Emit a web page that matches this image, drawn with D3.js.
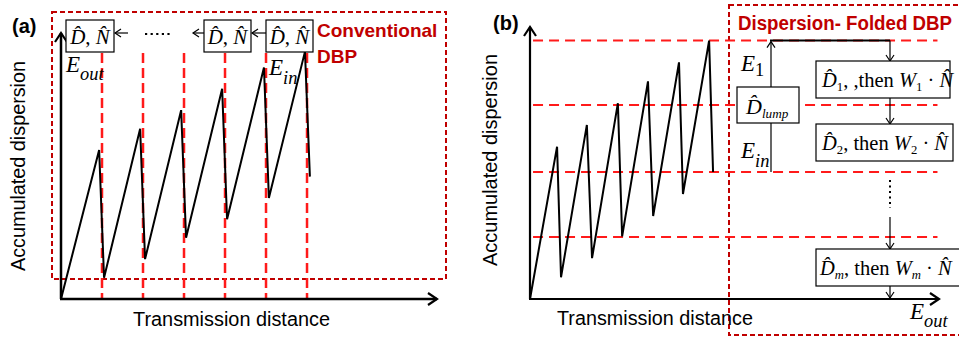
<!DOCTYPE html>
<html>
<head>
<meta charset="utf-8">
<script src="https://cdn.jsdelivr.net/npm/d3@7"></script>
<style>
    body { margin: 0; background: #fff; }
</style>
</head>
<body>
<svg id="chart"></svg>
<script>
// Panel (a): sawtooth of accumulated dispersion, x in spans, y in % of axis
const A_PEAK_X = [0.93, 1.93, 2.93, 3.93, 4.95, 5.95];
const A_PEAK_Y = [56, 64, 71, 79, 87, 93];
const A_DIP_X = [1.05, 2.05, 3.05, 4.05, 5.07, 6.07];
const A_DIP_Y = [8, 15, 23, 30, 38, 46];
const A_SPLITS = [1, 2, 3, 4, 5, 6];

// Panel (b)
const B_PEAK_X = [0.89, 1.87, 2.89, 3.88, 4.9, 5.89];
const B_PEAK_Y = [56, 64, 72, 80, 87, 95];
const B_DIP_X = [1.02, 2.04, 3.03, 4.05, 5.03, 6.02];
const B_DIP_Y = [8, 15, 23, 30.5, 38.6, 46.7];
const B_LEVELS = [95, 71.3, 46.7, 22.8];

const AXIS_LABEL_Y = 'Accumulated dispersion';
const AXIS_LABEL_X = 'Transmission distance';

const W = 959, H = 337;
const SERIF = '"Liberation Serif", "Times New Roman", serif';
const SANS = '"Liberation Sans", Arial, sans-serif';
const DARK_RED = '#c00000';
const RED = '#ff1a1a';
const HAT = '\u0302';

const svg = d3.select('#chart').attr('width', W).attr('height', H);
svg.append('rect').attr('width', W).attr('height', H).attr('fill', '#fff');

const defs = svg.append('defs');
function addMarker(id, len, half, width)
{
    defs.append('marker')
        .attr('id', id)
        .attr('viewBox', `${ -len - 2 } ${ -half - 2 } ${ len + 4 } ${ 2 * half + 4 }`)
        .attr('refX', 0).attr('refY', 0)
        .attr('markerUnits', 'userSpaceOnUse')
        .attr('markerWidth', len + 4).attr('markerHeight', 2 * half + 4)
        .attr('orient', 'auto')
        .append('path')
        .attr('d', `M${ -len },${ -half } L0,0 L${ -len },${ half }`)
        .attr('fill', 'none').attr('stroke', '#000')
        .attr('stroke-width', width);
}
addMarker('bigArrow', 9, 6, 2.2);
addMarker('smallArrow', 6, 4, 1.2);

function sawtooth(peakX, peakY, dipX, dipY)
{
    const pts = [[0, 0]];
    peakX.forEach((px, i) => {
        pts.push([px, peakY[i]]);
        pts.push([dipX[i], dipY[i]]);
    });
    return pts;
}

// rich text with italic parts and subscripts
function mathText(g, x, y, parts, size, anchor)
{
    const t = g.append('text')
        .attr('x', x).attr('y', y)
        .attr('font-family', SERIF)
        .attr('font-size', size)
        .attr('text-anchor', anchor || 'start');
    let shift = 0;
    parts.forEach(p => {
        const s = t.append('tspan').text(p.t)
            .attr('font-style', p.i ? 'italic' : 'normal');
        const want = p.sub ? p.sub : 0;
        if (want !== shift) s.attr('dy', want - shift);
        shift = want;
        if (p.sub) s.attr('font-size', size * (p.r || 0.62));
    });
    return t;
}

function box(g, x0, y0, x1, y1)
{
    g.append('rect')
        .attr('x', x0).attr('y', y0)
        .attr('width', x1 - x0).attr('height', y1 - y0)
        .attr('fill', '#fff').attr('stroke', '#000').attr('stroke-width', 1.2);
}

function arrow(g, x0, y0, x1, y1, width)
{
    g.append('line')
        .attr('x1', x0).attr('y1', y0).attr('x2', x1).attr('y2', y1)
        .attr('stroke', '#000').attr('stroke-width', width || 1.2)
        .attr('marker-end', 'url(#smallArrow)');
}

const line = (xs, ys) => d3.line().x(d => xs(d[0])).y(d => ys(d[1]));

// ---------------- panel (a) ----------------
const xA = d3.scaleLinear().domain([0, 9.17]).range([61, 437]);
const yA = d3.scaleLinear().domain([0, 100]).range([299, 33]);
const gA = svg.append('g');

gA.append('rect')
    .attr('x', 52).attr('y', 12).attr('width', 394).attr('height', 267)
    .attr('fill', 'none').attr('stroke', DARK_RED)
    .attr('stroke-width', 2).attr('stroke-dasharray', '5,3');

gA.selectAll('line.split')
    .data(A_SPLITS)
    .join('line')
    .attr('class', 'split')
    .attr('x1', d => xA(d)).attr('x2', d => xA(d))
    .attr('y1', yA(92.5)).attr('y2', yA(0))
    .attr('stroke', RED).attr('stroke-width', 2.5)
    .attr('stroke-dasharray', '10,5');

gA.append('path')
    .datum(sawtooth(A_PEAK_X, A_PEAK_Y, A_DIP_X, A_DIP_Y))
    .attr('fill', 'none').attr('stroke', '#000').attr('stroke-width', 2)
    .attr('d', line(xA, yA));

gA.append('line')
    .attr('x1', xA(0)).attr('y1', yA(0)).attr('x2', xA(0)).attr('y2', yA(100))
    .attr('stroke', '#000').attr('stroke-width', 2.5)
    .attr('marker-end', 'url(#bigArrow)');
gA.append('line')
    .attr('x1', xA(0) - 1).attr('y1', yA(0)).attr('x2', xA(9.17)).attr('y2', yA(0))
    .attr('stroke', '#000').attr('stroke-width', 2.5)
    .attr('marker-end', 'url(#bigArrow)');

const DN = [{ t: 'D' + HAT, i: true }, { t: ', ' }, { t: 'N' + HAT, i: true }];
[[66, 114], [204, 251], [266, 313]].forEach(([x0, x1]) => {
    box(gA, x0, 20, x1, 52);
    mathText(gA, (x0 + x1) / 2, 44, DN, 21, 'middle');
});
arrow(gA, 266, 33, 252, 33);
arrow(gA, 204, 33, 193, 33);
arrow(gA, 128, 33, 115, 33);
gA.append('line')
    .attr('x1', 145).attr('x2', 172).attr('y1', 34).attr('y2', 34)
    .attr('stroke', '#000').attr('stroke-width', 2.2)
    .attr('stroke-dasharray', '2.2,3.4');

mathText(gA, 66, 72, [{ t: 'E', i: true }, { t: 'out', i: true, sub: 8, r: 0.8 }], 23);
mathText(gA, 269, 75, [{ t: 'E', i: true }, { t: 'in', i: true, sub: 9, r: 0.8 }], 23);

gA.append('text').attr('x', 317).attr('y', 37)
    .attr('font-family', SANS).attr('font-weight', 'bold').attr('font-size', 19)
    .attr('fill', DARK_RED).text('Conventional');
gA.append('text').attr('x', 317).attr('y', 63)
    .attr('font-family', SANS).attr('font-weight', 'bold').attr('font-size', 19)
    .attr('fill', DARK_RED).text('DBP');

gA.append('text').attr('x', 12).attr('y', 33)
    .attr('font-family', SANS).attr('font-weight', 'bold').attr('font-size', 20)
    .text('(a)');
gA.append('text')
    .attr('transform', 'translate(25,166) rotate(-90)')
    .attr('text-anchor', 'middle')
    .attr('font-family', SANS).attr('font-size', 19.5)
    .attr('textLength', 210).attr('lengthAdjust', 'spacingAndGlyphs')
    .text(AXIS_LABEL_Y);
gA.append('text').attr('x', 133).attr('y', 326)
    .attr('font-family', SANS).attr('font-size', 19.5)
    .attr('textLength', 197).attr('lengthAdjust', 'spacingAndGlyphs')
    .text(AXIS_LABEL_X);

// ---------------- panel (b) ----------------
const xB = d3.scaleLinear().domain([0, 13.45]).range([530, 939]);
const yB = d3.scaleLinear().domain([0, 100]).range([299, 27]);
const gB = svg.append('g');

gB.append('rect')
    .attr('x', 729).attr('y', 5).attr('width', 240).attr('height', 330)
    .attr('fill', 'none').attr('stroke', DARK_RED)
    .attr('stroke-width', 2).attr('stroke-dasharray', '5,3');

gB.selectAll('line.level')
    .data(B_LEVELS)
    .join('line')
    .attr('class', 'level')
    .attr('x1', xB(0.1)).attr('x2', xB(13.4))
    .attr('y1', d => yB(d)).attr('y2', d => yB(d))
    .attr('stroke', RED).attr('stroke-width', 2)
    .attr('stroke-dasharray', '10,6');

gB.append('path')
    .datum(sawtooth(B_PEAK_X, B_PEAK_Y, B_DIP_X, B_DIP_Y))
    .attr('fill', 'none').attr('stroke', '#000').attr('stroke-width', 2)
    .attr('d', line(xB, yB));

gB.append('line')
    .attr('x1', xB(0)).attr('y1', yB(0)).attr('x2', xB(0)).attr('y2', yB(100))
    .attr('stroke', '#000').attr('stroke-width', 2.2)
    .attr('marker-end', 'url(#bigArrow)');
gB.append('line')
    .attr('x1', xB(0) - 1).attr('y1', yB(0)).attr('x2', xB(13.45)).attr('y2', yB(0))
    .attr('stroke', '#000').attr('stroke-width', 2.2)
    .attr('marker-end', 'url(#bigArrow)');

// folded DBP flow
const topY = yB(B_LEVELS[0]);
arrow(gB, 771, yB(B_LEVELS[2]), 771, topY + 1);
gB.append('line')
    .attr('x1', 770).attr('x2', 890).attr('y1', topY).attr('y2', topY)
    .attr('stroke', '#000').attr('stroke-width', 2);
arrow(gB, 890, topY, 890, 61);
arrow(gB, 890, 98, 890, 124);
gB.append('line')
    .attr('x1', 890).attr('x2', 890).attr('y1', 180).attr('y2', 208)
    .attr('stroke', '#000').attr('stroke-width', 2)
    .attr('stroke-dasharray', '2,3.5');
arrow(gB, 890, 217, 890, 249);
arrow(gB, 890, 286, 890, 298);

box(gB, 737, 87, 799, 123);
mathText(gB, 746, 114, [{ t: 'D' + HAT, i: true }, { t: 'lump', i: true, sub: 4, r: 0.6 }], 22);

box(gB, 816, 61, 950, 98);
mathText(gB, 822, 87, [
    { t: 'D' + HAT, i: true }, { t: '1', sub: 4 }, { t: ', ,then ' },
    { t: 'W', i: true }, { t: '1', sub: 4 }, { t: ' \u00b7 ' }, { t: 'N' + HAT, i: true }
], 20.5);

box(gB, 816, 124, 953, 161);
mathText(gB, 822, 150, [
    { t: 'D' + HAT, i: true }, { t: '2', sub: 4 }, { t: ',  then ' },
    { t: 'W', i: true }, { t: '2', sub: 4 }, { t: ' \u00b7 ' }, { t: 'N' + HAT, i: true }
], 20.5);

box(gB, 816, 249, 962, 286);
mathText(gB, 820, 275, [
    { t: 'D' + HAT, i: true }, { t: 'm', i: true, sub: 4 }, { t: ',  then ' },
    { t: 'W', i: true }, { t: 'm', i: true, sub: 4 }, { t: ' \u00b7 ' }, { t: 'N' + HAT, i: true }
], 20.5);

mathText(gB, 741, 71, [{ t: 'E', i: true }, { t: '1', sub: 5, r: 0.8 }], 23);
mathText(gB, 741, 158, [{ t: 'E', i: true }, { t: 'in', i: true, sub: 9, r: 0.8 }], 23);
mathText(gB, 910, 319, [{ t: 'E', i: true }, { t: 'out', i: true, sub: 8, r: 0.8 }], 23);

gB.append('text').attr('x', 738).attr('y', 30)
    .attr('font-family', SANS).attr('font-weight', 'bold').attr('font-size', 20)
    .attr('textLength', 214).attr('lengthAdjust', 'spacingAndGlyphs')
    .attr('fill', DARK_RED).text('Dispersion- Folded DBP');

gB.append('text').attr('x', 493).attr('y', 30)
    .attr('font-family', SANS).attr('font-weight', 'bold').attr('font-size', 20)
    .text('(b)');
gB.append('text')
    .attr('transform', 'translate(497,160) rotate(-90)')
    .attr('text-anchor', 'middle')
    .attr('font-family', SANS).attr('font-size', 19.5)
    .attr('textLength', 212).attr('lengthAdjust', 'spacingAndGlyphs')
    .text(AXIS_LABEL_Y);
gB.append('text').attr('x', 557).attr('y', 325)
    .attr('font-family', SANS).attr('font-size', 19.5)
    .attr('textLength', 196).attr('lengthAdjust', 'spacingAndGlyphs')
    .text(AXIS_LABEL_X);
</script>
</body>
</html>
